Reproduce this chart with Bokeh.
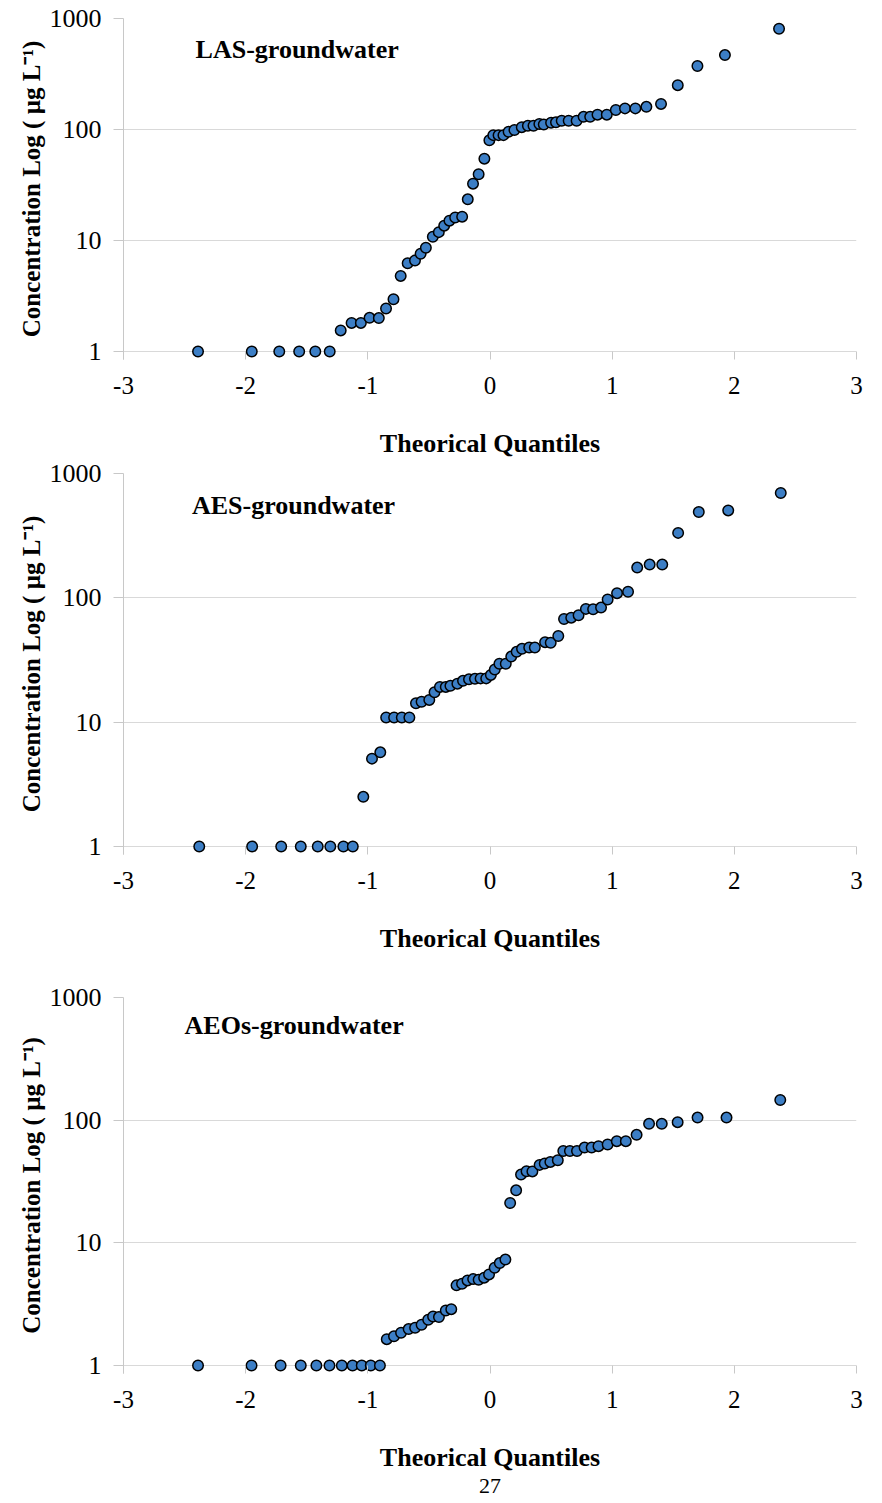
import math
from bokeh.plotting import figure
from bokeh.layouts import column
from bokeh.models import FixedTicker, NumeralTickFormatter, Label, Range1d, Title
from bokeh.embed import file_html
from bokeh.resources import INLINE

# ---------------- data ----------------
las_q = [-2.39, -1.95, -1.725, -1.562, -1.43, -1.312, -1.222, -1.133, -1.057, -0.986,
         -0.91, -0.851, -0.79, -0.731, -0.674, -0.614, -0.568, -0.525, -0.468, -0.419,
         -0.375, -0.332, -0.285, -0.228, -0.182, -0.139, -0.093, -0.046, -0.005, 0.027,
         0.07, 0.11, 0.152, 0.2, 0.26, 0.31, 0.356, 0.404, 0.44, 0.5,
         0.54, 0.587, 0.644, 0.709, 0.766, 0.82, 0.88, 0.956, 1.03, 1.105,
         1.19, 1.28, 1.40, 1.537, 1.698, 1.923, 2.366]
las_c = [1, 1, 1, 1, 1, 1, 1.55, 1.81, 1.81, 2.01,
         2.0, 2.44, 2.96, 4.8, 6.24, 6.6, 7.6, 8.6, 10.8, 11.9,
         13.6, 15.1, 16.1, 16.4, 23.5, 32.5, 39.5, 54.6, 80, 89,
         89, 89, 95.5, 99, 105, 108, 108, 112, 111, 115,
         116, 120, 120, 120, 130, 130, 136, 136, 150, 155,
         155, 160, 170, 251, 373, 468, 808]

aes_q = [-2.38, -1.947, -1.709, -1.549, -1.41, -1.307, -1.2, -1.123, -1.037, -0.966,
         -0.898, -0.85, -0.785, -0.722, -0.66, -0.606, -0.56, -0.497, -0.454, -0.41,
         -0.362, -0.324, -0.267, -0.221, -0.172, -0.123, -0.077, -0.031, 0.007, 0.039,
         0.077, 0.129, 0.174, 0.218, 0.262, 0.321, 0.367, 0.451, 0.497, 0.559,
         0.606, 0.665, 0.725, 0.785, 0.844, 0.909, 0.963, 1.04, 1.13, 1.205,
         1.307, 1.41, 1.54, 1.709, 1.95, 2.38]
aes_c = [1, 1, 1, 1, 1, 1, 1, 1, 2.51, 5.09,
         5.72, 10.9, 10.9, 10.9, 10.9, 14.2, 14.6, 15.1, 17.4, 19.2,
         19.2, 19.6, 20.4, 21.5, 22.1, 22.3, 22.5, 22.5, 24, 26.5,
         29.5, 29.5, 33.7, 36.8, 38.9, 39.9, 39.9, 44, 43.5, 49.3,
         67.6, 69.3, 72.4, 81.5, 81, 83.5, 96.9, 109, 112, 175,
         185, 185, 333, 490, 505, 697]

aeos_q = [-2.39, -1.952, -1.714, -1.549, -1.421, -1.314, -1.213, -1.125, -1.05, -0.976,
          -0.901, -0.845, -0.786, -0.728, -0.666, -0.613, -0.56, -0.506, -0.466, -0.418,
          -0.362, -0.317, -0.274, -0.229, -0.184, -0.138, -0.093, -0.048, -0.008, 0.038,
          0.08, 0.126, 0.165, 0.214, 0.254, 0.299, 0.347, 0.406, 0.448, 0.494,
          0.555, 0.6, 0.654, 0.712, 0.774, 0.832, 0.888, 0.963, 1.038, 1.112,
          1.2, 1.302, 1.406, 1.536, 1.699, 1.936, 2.376]
aeos_c = [1, 1, 1, 1, 1, 1, 1, 1, 1, 1,
          1, 1.64, 1.73, 1.85, 1.98, 2.03, 2.15, 2.36, 2.51, 2.48,
          2.81, 2.88, 4.5, 4.64, 4.94, 5.06, 5.0, 5.2, 5.53, 6.27,
          6.84, 7.3, 21.1, 26.8, 36, 38.3, 38.2, 43.2, 44.3, 45.7,
          47.1, 56.1, 56.1, 56.1, 59.8, 59.8, 61.4, 63.4, 67.4, 67.4,
          75.9, 93.3, 93.3, 96.3, 105, 105, 146]

panel_titles = ["LAS-groundwater", "AES-groundwater", "AEOs-groundwater"]
x_ticks = [-3, -2, -1, 0, 1, 2, 3]
x_tick_labels = ["-3", "-2", "-1", "0", "1", "2", "3"]
y_ticks = [1, 10, 100, 1000]
x_title = "Theorical Quantiles"
y_title = "Concentration Log ( \u00b5g L\u207b\u00b9)"
page_number = "27"

# ---------------- layout / style ----------------
SERIF = "Liberation Serif"
DOT_FILL = "#3C7EC5"
GRID = "#d9d9d9"
AXIS = "#c8c8c8"
EXT = 8  # px of frame below the y=1 line

panels = [
    # q, c, title, height, top, left, right, title_q, title_log
    (las_q, las_c, panel_titles[0], 460, 18, 120, 26, -2.41, 2.725),
    (aes_q, aes_c, panel_titles[1], 515, 13, 121, 25, -2.44, 2.745),
    (aeos_q, aeos_c, panel_titles[2], 528, 22, 123, 9, -2.50, 2.77),
]
frame_heights = [342, 381, 376]

figs = []
for i, (q, c, ttl, h, top, left, right, tq, tlog) in enumerate(panels):
    fh = frame_heights[i]
    ppd = (fh - EXT) / 3.0
    y_start = 10 ** (-EXT / ppd)
    bottom = h - top - fh
    p = figure(width=882, height=h, x_axis_type="linear", y_axis_type="log",
               x_range=Range1d(-3, 3), y_range=Range1d(y_start, 1000),
               output_backend="svg", toolbar_location=None,
               min_border_top=top, min_border_bottom=bottom,
               min_border_left=left, min_border_right=right)
    p.outline_line_color = None
    p.background_fill_color = "white"
    p.border_fill_color = "white"

    # x axis (the y=1 grid line plays the axis line; ticks hang below it)
    xa = p.xaxis[0]
    xa.ticker = FixedTicker(ticks=x_ticks)
    xa.major_label_overrides = dict(zip(x_ticks, x_tick_labels))
    xa.axis_line_color = None
    xa.major_tick_line_color = AXIS
    xa.major_tick_out = 0
    xa.major_tick_in = EXT
    xa.minor_tick_line_color = None
    xa.major_label_text_font = SERIF
    xa.major_label_text_font_size = "25px"
    xa.major_label_text_color = "black"
    xa.major_label_standoff = 17
    xa.axis_label = x_title
    xa.axis_label_text_font = SERIF
    xa.axis_label_text_font_style = "bold"
    xa.axis_label_text_font_size = "26px"
    xa.axis_label_text_color = "black"
    xa.axis_label_standoff = 32

    # y axis
    ya = p.yaxis[0]
    ya.ticker = FixedTicker(ticks=y_ticks)
    ya.formatter = NumeralTickFormatter(format="0")
    ya.axis_line_color = AXIS
    ya.major_tick_line_color = AXIS
    ya.major_tick_out = 10
    ya.major_tick_in = 0
    ya.minor_tick_line_color = None
    ya.major_label_text_font = SERIF
    ya.major_label_text_font_size = "26px"
    ya.major_label_text_color = "black"
    ya.major_label_standoff = 12
    ya.axis_label = y_title
    ya.axis_label_text_font = SERIF
    ya.axis_label_text_font_style = "bold"
    ya.axis_label_text_font_size = "25px"
    ya.axis_label_text_color = "black"
    ya.axis_label_standoff = 2

    p.xgrid.visible = False
    p.ygrid.ticker = FixedTicker(ticks=y_ticks)
    p.ygrid.grid_line_color = GRID
    p.ygrid.grid_line_width = 1

    p.scatter(q, c, marker="circle", size=10.5, fill_color=DOT_FILL,
              line_color="black", line_width=1.5)

    p.add_layout(Label(x=tq, y=10 ** tlog, text=ttl, text_align="left",
                       text_baseline="middle", text_font=SERIF,
                       text_font_style="bold", text_font_size="26px",
                       text_color="black"))
    if i == 2:
        p.add_layout(Title(text=page_number, align="center", text_font=SERIF,
                           text_font_style="normal", text_font_size="22px",
                           text_color="black", standoff=4), "below")
    figs.append(p)

layout = column(*figs, spacing=0)
open("out.html", "w").write(file_html(layout, INLINE))
